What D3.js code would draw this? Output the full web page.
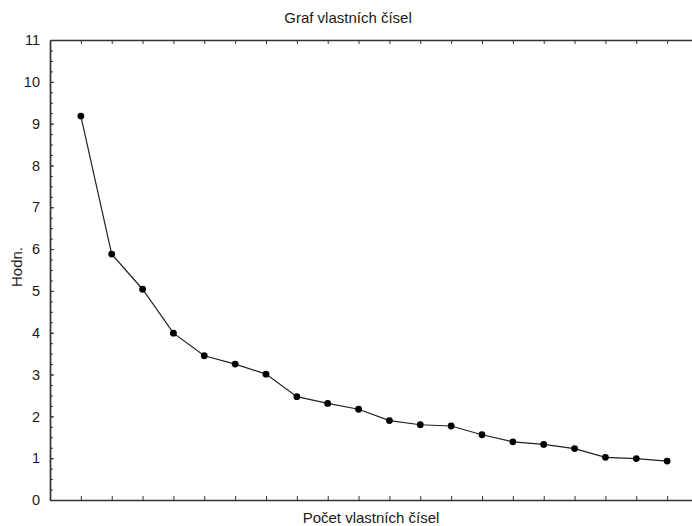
<!DOCTYPE html>
<meta charset="utf-8">
<style>
body { margin: 0; background: #fff; }
text { font-family: "Liberation Sans", Arial, sans-serif; fill: #1a1a1a; }
.axis path, .axis line { stroke: #333; }
.axis path { stroke-width: 1.7; }
</style>
<head>
  <script src="https://d3js.org/d3.v7.min.js"></script>
</head>
<svg width="692" height="526"></svg>
<script>

// pořadí vlastních čísel a jejich hodnoty
var indexes = d3.range(1, 21);
var values = [9.18, 5.88, 5.04, 3.99, 3.45, 3.25, 3.01, 2.47, 2.31, 2.17,
              1.90, 1.80, 1.77, 1.56, 1.39, 1.33, 1.23, 1.02, 0.99, 0.93];
var yTicks = d3.range(0, 12);
var yMinor = d3.range(0, 11.01, 0.25);

var svg = d3.select("svg"),
    margin = {top: 40, left: 50},
    height = 460;

var x = d3.scaleLinear().domain([0, 21]).range([0, 648]),
    y = d3.scaleLinear().domain([0, 11]).range([height, 0]);

var g = svg.append("g")
    .attr("transform", "translate(" + margin.left + "," + margin.top + ")");

// minor ticks on y
g.append("g")
    .attr("class", "axis")
    .call(d3.axisLeft(y).tickValues(yMinor).tickSize(-3).tickFormat(""))
  .select(".domain").remove();

g.append("g")
    .attr("class", "axis axis--y")
    .call(d3.axisLeft(y).tickValues(yTicks).tickSize(-4).tickSizeOuter(0).tickPadding(10))
    .selectAll("text")
    .style("font-size", "14.5px");

g.append("g")
    .attr("class", "axis axis--x")
    .attr("transform", "translate(0," + height + ")")
    .call(d3.axisBottom(x).tickValues(indexes).tickSize(-4).tickSizeOuter(0).tickFormat(""));

g.append("g")
    .attr("class", "axis axis--top")
    .call(d3.axisTop(x).tickValues(indexes).tickSize(-4).tickSizeOuter(0).tickFormat(""));

var line = d3.line()
    .x(function(d, i) { return x(indexes[i]); })
    .y(function(d) { return y(d); });

g.append("path")
    .datum(values)
    .attr("fill", "none")
    .attr("stroke", "#222")
    .attr("stroke-width", 1.2)
    .attr("d", line);

g.selectAll(".dot")
    .data(values)
  .enter().append("circle")
    .attr("class", "dot")
    .attr("cx", function(d, i) { return x(indexes[i]); })
    .attr("cy", function(d) { return y(d); })
    .attr("r", 3.4)
    .attr("fill", "#000");

svg.append("text")
    .attr("x", 348)
    .attr("y", 23)
    .attr("text-anchor", "middle")
    .style("font-size", "15px")
    .text("Graf vlastních čísel");

svg.append("text")
    .attr("x", 371)
    .attr("y", 523)
    .attr("text-anchor", "middle")
    .style("font-size", "15px")
    .text("Počet vlastních čísel");

svg.append("text")
    .attr("transform", "translate(22,267) rotate(-90)")
    .attr("text-anchor", "middle")
    .style("font-size", "15px")
    .text("Hodn.");

</script>
